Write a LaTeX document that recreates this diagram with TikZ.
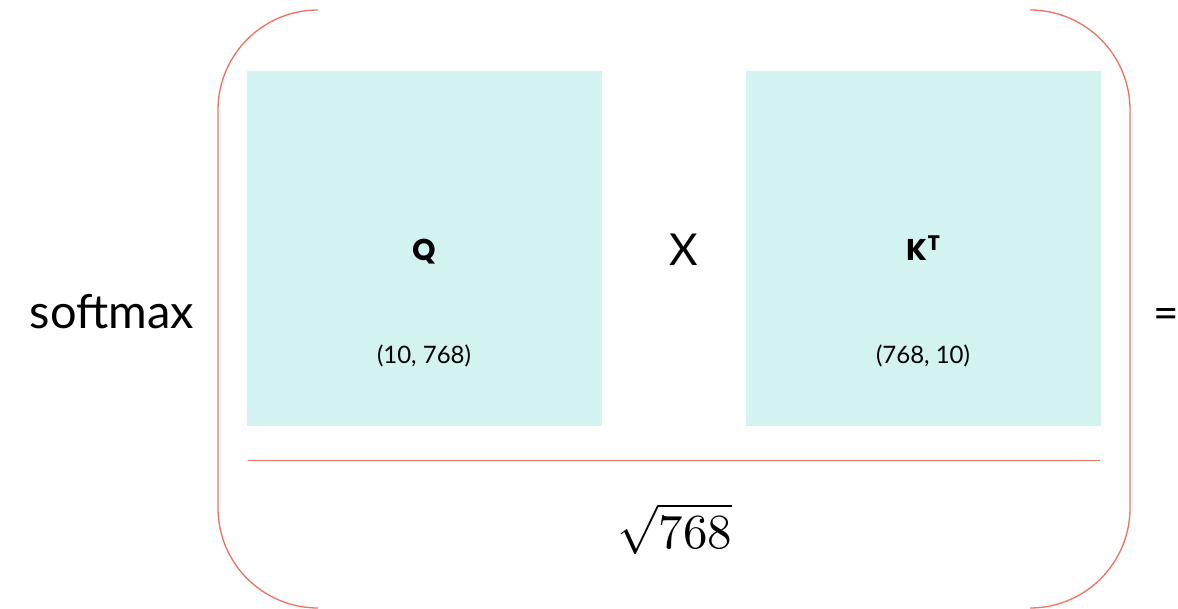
\documentclass[tikz,border=0pt]{standalone}
\usepackage{fontspec}
\usepackage{unicode-math}
\setmainfont{Lato}
\newfontfamily\boldfont{Poppins}[UprightFont=* Bold]
\begin{document}
\begin{tikzpicture}[x=1pt,y=-1pt,
  mat/.style={fill=matfill, draw=none, minimum width=355pt, minimum height=355pt, inner sep=0pt},
  brk/.style={draw=brkcol, line width=1.3pt},
  lbl/.style={inner sep=0pt, anchor=base}]
\definecolor{matfill}{HTML}{D2F3F0}
\definecolor{brkcol}{HTML}{F07060}
\useasboundingbox (0,0) rectangle (1178,609);
% matrices
\node[mat] (q) at (424.5,248.5) {};
\node[mat] (k) at (923.5,248.5) {};
\node[lbl,font=\boldfont\fontsize{30}{34}\selectfont] (ql) at (424.5,261) {Q};
\node[lbl,font=\boldfont\fontsize{30}{34}\selectfont] (kl) at (923.5,261) {K\textsuperscript{T}};
\node[lbl,font=\fontsize{24}{28}\selectfont] (qd) at (424,364) {(10, 768)};
\node[lbl,font=\fontsize{24}{28}\selectfont] (kd) at (923,364) {(768, 10)};
\node[lbl,font=\fontsize{44}{50}\selectfont] (x) at (684,266) {X};
\node[lbl,font=\fontsize{47}{52}\selectfont] (sm) at (112,329) {softmax};
\node[lbl,font=\fontsize{44}{50}\selectfont] (eq) at (1166,329) {=};
% fraction bar
\coordinate (fl) at (248,460);
\coordinate (fr) at (1100,460);
\draw[draw=brkcol, line width=1pt] (fl) -- (fr);
\node[lbl,font=\fontsize{49}{56}\selectfont] (den) at (675,548) {$\sqrt{768}$};
% brackets
\draw[brk] (318,10) arc[start angle=-90, end angle=-180, radius=100] -- (218,508) arc[start angle=180, end angle=90, radius=100];
\draw[brk] (1030,10) arc[start angle=-90, end angle=0, radius=100] -- (1130,508) arc[start angle=0, end angle=90, radius=100];
\end{tikzpicture}
\end{document}
